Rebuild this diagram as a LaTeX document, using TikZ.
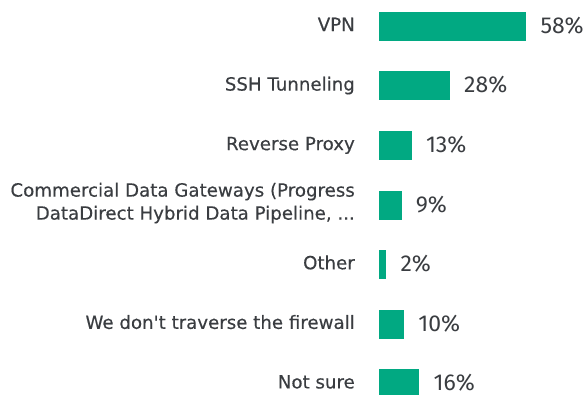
\documentclass[tikz,border=0pt]{standalone}
\usepackage{fontspec}
\newfontfamily\catfont[FakeBold=0.35]{DejaVu Sans}
\newfontfamily\pctfont{Fira Sans}
\definecolor{hpegreen}{HTML}{01A982}
\definecolor{txtgray}{HTML}{3A3D41}
\begin{document}
\begin{tikzpicture}[x=1pt,y=-1pt,
  barbox/.style={fill=hpegreen,draw=none,inner sep=0pt,outer sep=0pt,minimum height=29pt,anchor=west},
  catlabel/.style={anchor=base east,inner sep=0pt,text=txtgray,font=\catfont\fontsize{18.2}{20}\selectfont},
  pctlabel/.style={anchor=base west,inner sep=0pt,text=txtgray,font=\pctfont\fontsize{23}{26}\selectfont}]
\useasboundingbox (0,0) rectangle (584,394);
\clip (0,0) rectangle (584,394);
\foreach \i/\w/\v/\t in {0/147.6/58/VPN, 1/71.3/28/SSH Tunneling, 2/33.1/13/Reverse Proxy, 4/7.6/2/Other, 5/25.5/10/We don't traverse the firewall, 6/40.7/16/Not sure}{
  \pgfmathsetmacro{\c}{26.3+59.57*\i}
  \pgfmathsetmacro{\px}{378.7+\w+14}
  \pgfmathsetmacro{\py}{\c+7}
  \pgfmathsetmacro{\cy}{\c+4.7}
  \node[barbox,minimum width=\w pt] (bar\i) at (378.7,\c) {};
  \node[pctlabel] (pct\i) at (\px,\py) {\v\%};
  \node[catlabel] (cat\i) at (355,\cy) {\t};
}
\pgfmathsetmacro{\c}{26.3+59.57*3}
\pgfmathsetmacro{\py}{\c+7}
\node[barbox,minimum width=22.9pt] (bar3) at (378.7,\c) {};
\node[pctlabel] (pct3) at (415.6,\py) {9\%};
\node[catlabel] (cat3a) at (355,196.6) {Commercial Data Gateways (Progress};
\node[catlabel] (cat3b) at (355,219.6) {DataDirect Hybrid Data Pipeline, ...};
\end{tikzpicture}
\end{document}
